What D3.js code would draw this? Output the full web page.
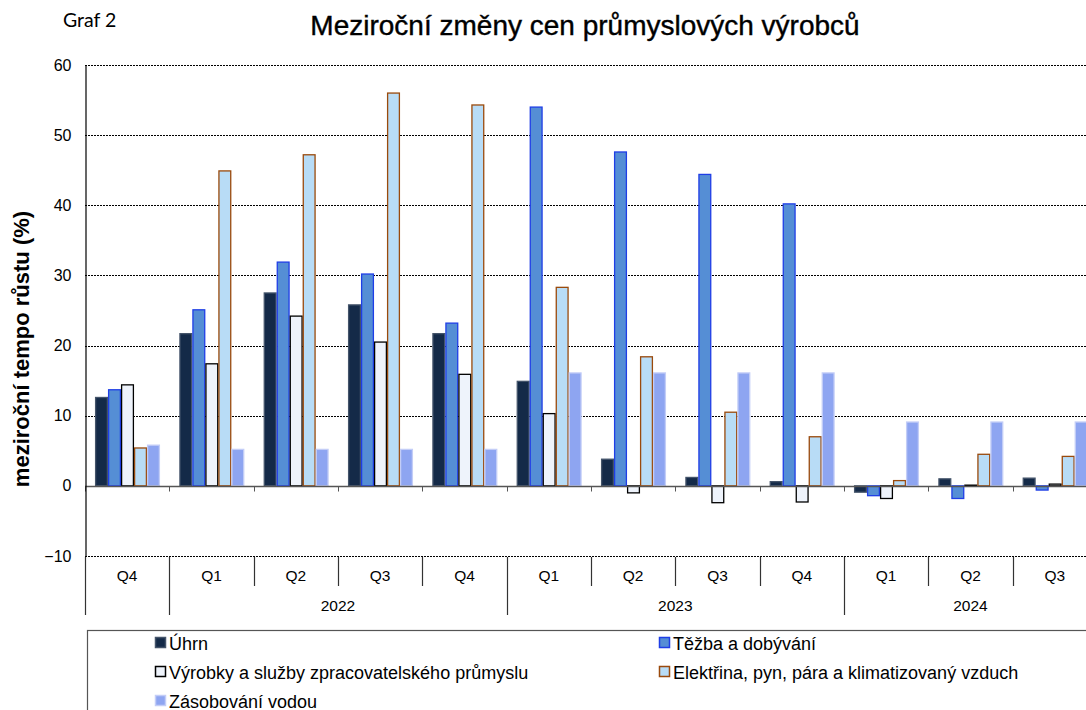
<!DOCTYPE html>
<html>
<head>
<meta charset="utf-8">
<script src="https://cdn.jsdelivr.net/npm/d3@7"></script>
<style>
  body { margin: 0; background: #fff; }
  svg { display: block; font-family: "Liberation Sans", Arial, sans-serif; }
</style>
</head>
<body>
<div id="app"></div>
<script>
// data
var quarters = ["Q4", "Q1", "Q2", "Q3", "Q4", "Q1", "Q2", "Q3", "Q4", "Q1", "Q2", "Q3"];
var years = ["2022", "2023", "2024"];
var yearStart = [1, 5, 9];
var yearEnd = [5, 9, 12];
var seriesNames = ["Úhrn", "Těžba a dobývání", "Výrobky a služby zpracovatelského průmyslu",
                   "Elektřina, pyn, pára a klimatizovaný vzduch", "Zásobování vodou"];
var uhrn      = [12.6, 21.7, 27.5, 25.8, 21.7, 14.9, 3.8, 1.2, 0.6, -0.9, 1.0, 1.1];
var tezba     = [13.7, 25.1, 31.9, 30.2, 23.2, 54.0, 47.6, 44.4, 40.2, -1.4, -1.8, -0.6];
var vyrobky   = [14.4, 17.4, 24.2, 20.5, 15.9, 10.3, -1.0, -2.4, -2.3, -1.8, 0.1, 0.25];
var elektrina = [5.4, 44.9, 47.2, 56.0, 54.3, 28.3, 18.4, 10.5, 7.0, 0.75, 4.5, 4.2];
var voda      = [5.8, 5.2, 5.2, 5.2, 5.2, 16.1, 16.1, 16.1, 16.1, 9.1, 9.1, 9.1];
var yTicks = [-10, 0, 10, 20, 30, 40, 50, 60];

var allSeries = [uhrn, tezba, vyrobky, elektrina, voda];
var fills   = ["#142a48", "#558ed5", "#eef3fb", "#b8dcf6", "#8ea5f1"];
var strokes = ["#44546a", "#1f3ee6", "#000000", "#9a4a0c", "#c3cdf7"];

var width = 1086, height = 710;
var svg = d3.select("#app").append("svg")
    .attr("width", width)
    .attr("height", height);

var x = d3.scaleBand().domain(d3.range(quarters.length)).range([85, 1097]);
var xs = d3.scaleBand().domain(d3.range(allSeries.length)).range([10, 75]);
var y = d3.scaleLinear().domain([-10, 60]).range([556, 65]);

// gridlines
svg.append("g").selectAll("line")
    .data(yTicks.filter(function(d) { return d != 0; }))
    .enter().append("line")
    .attr("x1", 85).attr("x2", width)
    .attr("y1", function(d) { return Math.round(y(d)) + 0.5; })
    .attr("y2", function(d) { return Math.round(y(d)) + 0.5; })
    .attr("stroke", "#000")
    .attr("stroke-width", 1)
    .attr("stroke-dasharray", "2,1");

// bars
allSeries.forEach(function(vals, s) {
    svg.append("g").selectAll("rect")
        .data(vals)
        .enter().append("rect")
        .attr("x", function(d, i) { return x(i) + xs(s) + 0.6; })
        .attr("width", xs.bandwidth() - 1.2)
        .attr("y", function(d) { return y(Math.max(0, d)); })
        .attr("height", function(d) { return Math.abs(y(d) - y(0)); })
        .attr("fill", fills[s])
        .attr("stroke", strokes[s])
        .attr("stroke-width", 1.3);
});

// zero line + ticks
var y0 = Math.round(y(0)) + 0.5;
svg.append("line").attr("x1", 85).attr("x2", width)
    .attr("y1", y0).attr("y2", y0)
    .attr("stroke", "#555").attr("stroke-width", 1.3);
svg.append("g").selectAll("line")
    .data(d3.range(quarters.length))
    .enter().append("line")
    .attr("x1", function(i) { return Math.round(x(i)) + 0.5; })
    .attr("x2", function(i) { return Math.round(x(i)) + 0.5; })
    .attr("y1", y0).attr("y2", y0 + 5)
    .attr("stroke", "#555");

// y axis
var yAxis = svg.append("g")
    .attr("transform", "translate(85.5,0)")
    .call(d3.axisLeft(y).tickValues(yTicks).tickSize(0).tickPadding(14).tickFormat(d3.format("d")));
yAxis.select(".domain").attr("stroke", "#000").attr("stroke-width", 1.2);
yAxis.selectAll("text").attr("font-size", 16).attr("fill", "#000")
    .attr("font-family", "'Liberation Sans', Arial, sans-serif");

// category axis
var xAxis = svg.append("g");
xAxis.selectAll("text.q")
    .data(quarters)
    .enter().append("text")
    .attr("class", "q")
    .attr("x", function(d, i) { return x(i) + x.bandwidth() / 2; })
    .attr("y", 581)
    .attr("text-anchor", "middle")
    .attr("font-size", 15.5)
    .text(function(d) { return d; });

var yearBounds = [0].concat(yearStart);
xAxis.selectAll("line.sep")
    .data(d3.range(quarters.length))
    .enter().append("line")
    .attr("class", "sep")
    .attr("x1", function(i) { return Math.round(x(i)) + 0.5; })
    .attr("x2", function(i) { return Math.round(x(i)) + 0.5; })
    .attr("y1", 557)
    .attr("y2", function(i) { return yearBounds.indexOf(i) >= 0 ? 615 : 586; })
    .attr("stroke", "#333")
    .attr("stroke-width", 1.2);

xAxis.selectAll("text.yr")
    .data(years)
    .enter().append("text")
    .attr("class", "yr")
    .attr("x", function(d, k) { return (x(yearStart[k]) + x(yearEnd[k] - 1) + x.bandwidth()) / 2; })
    .attr("y", 611)
    .attr("text-anchor", "middle")
    .attr("font-size", 15.5)
    .text(function(d) { return d; });

// titles
svg.append("text")
    .attr("x", 585).attr("y", 35)
    .attr("text-anchor", "middle")
    .attr("font-size", 28)
    .attr("stroke", "#000")
    .attr("stroke-width", 0.4)
    .text("Meziroční změny cen průmyslových výrobců");

svg.append("text")
    .attr("x", 63).attr("y", 27)
    .attr("font-family", "Lato, 'Open Sans', sans-serif")
    .attr("font-size", 19.5)
    .text("Graf 2");

svg.append("text")
    .attr("transform", "translate(29,349) rotate(-90)")
    .attr("text-anchor", "middle")
    .attr("font-size", 22)
    .attr("font-weight", "bold")
    .text("meziroční tempo růstu (%)");

// legend
svg.append("rect")
    .attr("x", 87.5).attr("y", 630.5)
    .attr("width", 1100).attr("height", 100)
    .attr("fill", "none").attr("stroke", "#555").attr("stroke-width", 1.2);

var legendX = [155, 659, 155, 659, 155];
var legendY = [643, 643, 672, 672, 701];
var legend = svg.append("g").selectAll("g")
    .data(seriesNames)
    .enter().append("g")
    .attr("transform", function(d, i) { return "translate(" + legendX[i] + "," + legendY[i] + ")"; });
legend.append("rect")
    .attr("x", 0.5).attr("y", -5.5)
    .attr("width", 10).attr("height", 10)
    .attr("fill", function(d, i) { return fills[i]; })
    .attr("stroke", function(d, i) { return strokes[i]; })
    .attr("stroke-width", 1.5);
legend.append("text")
    .attr("x", 14).attr("y", 6.5)
    .attr("font-size", 18)
    .text(function(d) { return d; });
</script>
</body>
</html>
